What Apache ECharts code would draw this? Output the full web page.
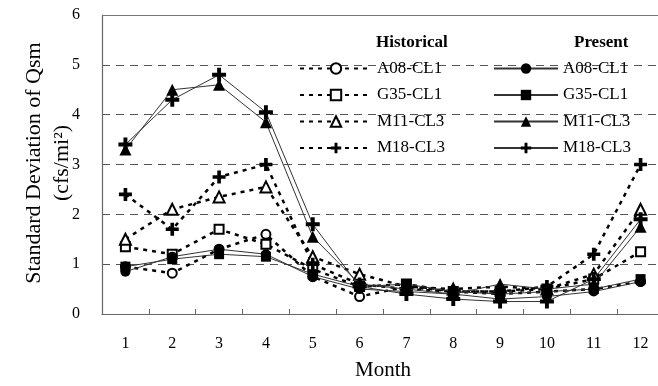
<!DOCTYPE html>
<html><head><meta charset="utf-8">
<script src="https://cdn.jsdelivr.net/npm/echarts@6/dist/echarts.min.js"></script>
<style>html,body{margin:0;padding:0;background:#fff;overflow:hidden}#c{width:664px;height:386px}</style>
</head><body><div id="c"></div>
<script>
var months = ['1','2','3','4','5','6','7','8','9','10','11','12'];
var yTicks = [0,1,2,3,4,5,6];
var names = ['A08-CL1','G35-CL1','M11-CL3','M18-CL3'];
var histA08 = [0.95,0.82,1.30,1.60,0.75,0.35,0.55,0.45,0.40,0.45,0.50,0.65];
var histG35 = [1.35,1.20,1.70,1.40,0.90,0.55,0.60,0.45,0.45,0.50,0.70,1.25];
var histM11 = [1.50,2.10,2.35,2.55,1.15,0.80,0.55,0.50,0.55,0.50,0.80,2.10];
var histM18 = [2.40,1.70,2.75,3.00,1.00,0.60,0.50,0.45,0.45,0.55,1.20,3.00];
var presA08 = [0.85,1.15,1.30,1.20,0.75,0.50,0.45,0.40,0.30,0.35,0.45,0.65];
var presG35 = [0.95,1.10,1.20,1.15,0.80,0.55,0.60,0.45,0.40,0.45,0.50,0.70];
var presM11 = [3.30,4.50,4.60,3.85,1.55,0.60,0.50,0.40,0.60,0.50,0.60,1.75];
var presM18 = [3.40,4.30,4.80,4.05,1.80,0.55,0.40,0.30,0.25,0.25,0.70,1.90];

var FONT = 'Liberation Serif';
var plus = 'path://M3.6,0H6.4V3.6H10V6.4H6.4V10H3.6V6.4H0V3.6H3.6Z';
var symbols = ['circle','rect','triangle',plus];
var histData = [histA08,histG35,histM11,histM18];
var presData = [presA08,presG35,presM11,presM18];
var series = [];
for (var i=0;i<4;i++){
  var isPlus = i===3;
  series.push({
    name:'H|'+names[i], type:'line', data:histData[i],
    symbol:symbols[i], symbolSize: isPlus?13:(i===2?11:9),
    lineStyle:{color:'#000',width:2.5,type:[4,5]},
    itemStyle:{color:isPlus?'#000':'#fff',borderColor:'#000',borderWidth:isPlus?0:2},
    z:3
  });
}
for (var j=0;j<4;j++){
  var isP = j===3;
  series.push({
    name:'P|'+names[j], type:'line', data:presData[j],
    symbol:symbols[j], symbolSize: isP?14:(j===2?12:10),
    lineStyle:{color:'#333',width:1},
    itemStyle:{color:'#000',borderWidth:0},
    z:4
  });
}
series[0].markLine = {silent:true,symbol:'none',label:{show:false},
  lineStyle:{color:'#777',type:'solid',width:1.2},data:[{yAxis:6}]};

var chart = echarts.init(document.getElementById('c'));
chart.setOption({
  animation:false,
  backgroundColor:'#fff',
  grid:{left:102,right:0,top:15,bottom:61},
  xAxis:{type:'category',data:months,boundaryGap:true,
    axisLine:{lineStyle:{color:'#666',width:1.2}},
    axisTick:{show:true,inside:true,length:5,lineStyle:{color:'#666'}},
    axisLabel:{color:'#000',fontFamily:FONT,fontSize:16,margin:22},
    name:'Month',nameLocation:'middle',nameGap:46,
    nameTextStyle:{color:'#000',fontFamily:FONT,fontSize:21}
  },
  yAxis:{type:'value',min:yTicks[0],max:yTicks[yTicks.length-1],interval:1,
    axisLine:{show:true,lineStyle:{color:'#666',width:1.2}},
    axisTick:{show:false},
    axisLabel:{color:'#000',fontFamily:FONT,fontSize:16,margin:22},
    splitLine:{show:true,lineStyle:{color:'#555',type:[8,6],width:1}}
  },
  legend:[{
    orient:'vertical',left:294,top:55,itemWidth:72,itemHeight:13,itemGap:9.5,
    data:names.map(function(n){return 'H|'+n;}),
    formatter:function(n){return n.split('|')[1];},
    textStyle:{color:'#000',fontFamily:FONT,fontSize:17}
  },{
    orient:'vertical',left:488,top:55,itemWidth:64,itemHeight:13,itemGap:9.5,
    data:names.map(function(n){return 'P|'+n;}),
    formatter:function(n){return n.split('|')[1];},
    textStyle:{color:'#000',fontFamily:FONT,fontSize:17}
  }],
  graphic:[
    {type:'text',left:376,top:34,style:{text:'Historical',font:'bold 17px "Liberation Serif"',fill:'#000'}},
    {type:'text',left:574,top:34,style:{text:'Present',font:'bold 17px "Liberation Serif"',fill:'#000'}},
    {type:'text',x:34,y:163,rotation:Math.PI/2,style:{text:'Standard Deviation of Qsm',font:'22px "Liberation Serif"',fill:'#000',align:'center',verticalAlign:'middle'}},
    {type:'text',x:62,y:163,rotation:Math.PI/2,style:{text:'(cfs/mi²)',font:'22px "Liberation Serif"',fill:'#000',align:'center',verticalAlign:'middle'}}
  ],
  series:series
});
</script></body></html>
